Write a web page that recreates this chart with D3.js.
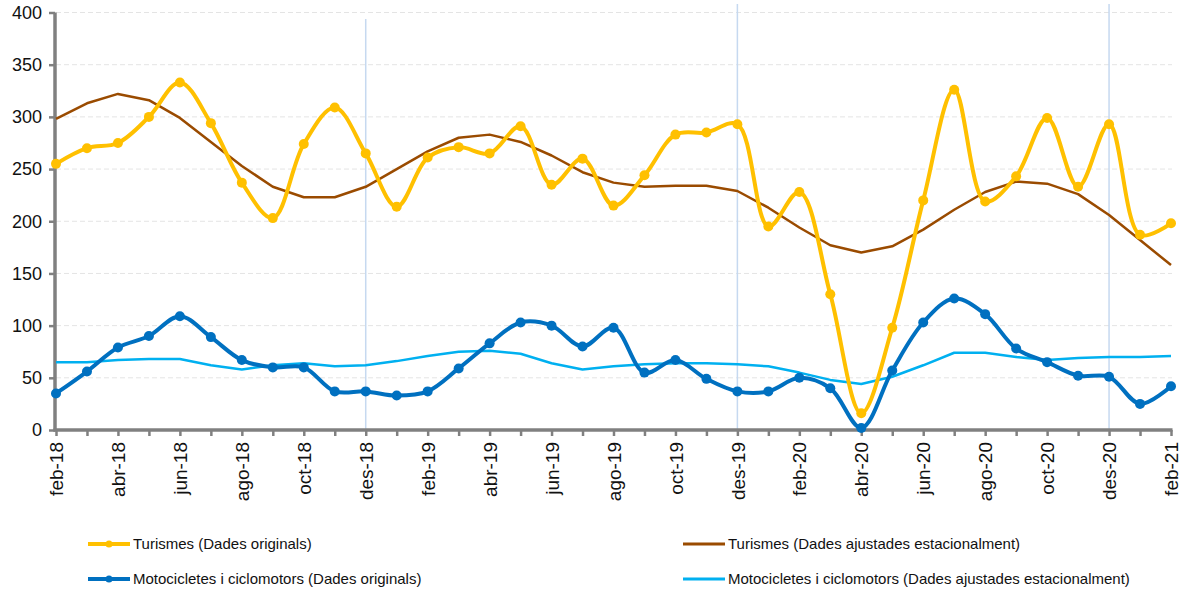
<!DOCTYPE html>
<html>
<head>
<meta charset="utf-8">
<script src="https://cdn.jsdelivr.net/npm/d3@7"></script>
<style>
  body { margin: 0; background: #fff; }
  svg { display: block; font-family: "Liberation Sans", Arial, sans-serif; }
</style>
</head>
<body>
<svg id="chart" width="1185" height="593"></svg>
<script>
// months on the x axis
const months = [
  "feb-18","mar-18","abr-18","mai-18","jun-18","jul-18","ago-18","set-18","oct-18","nov-18","des-18",
  "gen-19","feb-19","mar-19","abr-19","mai-19","jun-19","jul-19","ago-19","set-19","oct-19","nov-19","des-19",
  "gen-20","feb-20","mar-20","abr-20","mai-20","jun-20","jul-20","ago-20","set-20","oct-20","nov-20","des-20",
  "gen-21","feb-21"
];
const yTicks = [0, 50, 100, 150, 200, 250, 300, 350, 400];
const separators = ["des-18", "des-19", "des-20"];

const turismesOrig = [255,270,275,300,333,294,237,203,274,309,265,214,261,271,265,291,235,260,215,244,283,285,293,195,228,130,16,98,220,326,219,243,299,233,293,187,198];
const turismesAdj  = [298,313,322,316,299,276,253,233,223,223,233,250,267,280,283,276,263,247,237,233,234,234,229,213,194,177,170,176,192,211,228,238,236,226,206,182,158];
const motosOrig    = [35,56,79,90,109,89,67,60,60,37,37,33,37,59,83,103,100,80,98,55,67,49,37,37,50,40,2,57,103,126,111,78,65,52,51,25,42];
const motosAdj     = [65,65,67,68,68,62,58,62,64,61,62,66,71,75,76,73,64,58,61,63,64,64,63,61,55,48,44,51,62,74,74,70,67,69,70,70,71];

const series = [
  { name: "Turismes (Dades ajustades estacionalment)", values: turismesAdj, color: "#9A4B00", width: 2.5, smooth: false, dots: false },
  { name: "Motocicletes i ciclomotors (Dades ajustades estacionalment)", values: motosAdj, color: "#00B0F0", width: 2.5, smooth: false, dots: false },
  { name: "Turismes (Dades originals)", values: turismesOrig, color: "#FFC000", width: 4, smooth: true, dots: true },
  { name: "Motocicletes i ciclomotors (Dades originals)", values: motosOrig, color: "#0070C0", width: 4, smooth: true, dots: true }
];

const svg = d3.select("#chart");
const x = d3.scalePoint().domain(months).range([56, 1171]);
const y = d3.scaleLinear().domain([0, 400]).range([430, 12.5]);

// gridlines
svg.append("g").selectAll("line")
  .data(yTicks.filter(d => d > 0))
  .join("line")
  .attr("x1", 56).attr("x2", 1172)
  .attr("y1", d => y(d)).attr("y2", d => y(d))
  .attr("stroke", "#e4e4e4").attr("stroke-width", 1)
  .attr("stroke-dasharray", "5,3");

// year separators
const sepTop = [19, 4, 4];
svg.append("g").selectAll("line")
  .data(separators)
  .join("line")
  .attr("x1", d => x(d)).attr("x2", d => x(d))
  .attr("y1", (d, i) => sepTop[i]).attr("y2", y(0))
  .attr("stroke", "#c6d9f0").attr("stroke-width", 1.5);

// y axis
const yAxis = svg.append("g").attr("transform", `translate(${x(months[0]) - 1},0)`)
  .call(d3.axisLeft(y).tickValues(yTicks).tickSize(6).tickPadding(7));
yAxis.select(".domain").attr("stroke", "#808080").attr("stroke-width", 3.5).attr("d", `M0,${y(400)}V${y(0) + 1.5}`);
yAxis.selectAll(".tick line").attr("stroke", "#808080").attr("stroke-width", 2.5);
yAxis.selectAll(".tick text").attr("font-size", 18).attr("fill", "#111").attr("font-family", "Liberation Sans, Arial, sans-serif");

// x axis
const xAxis = svg.append("g").attr("transform", `translate(0,${y(0)})`)
  .call(d3.axisBottom(x).tickSize(6).tickPadding(10)
    .tickFormat((d, i) => i % 2 === 0 ? d : ""));
xAxis.select(".domain").attr("stroke", "#808080").attr("stroke-width", 3.5).attr("d", `M${x(months[0]) - 2.5},0H${x(months[months.length - 1]) + 1.5}`);
xAxis.selectAll(".tick line").attr("stroke", "#808080").attr("stroke-width", 2.5);
xAxis.selectAll(".tick text")
  .attr("font-size", 19).attr("fill", "#111").attr("font-family", "Liberation Sans, Arial, sans-serif")
  .attr("text-anchor", "end")
  .attr("transform", "rotate(-90)")
  .attr("x", -12).attr("y", 0).attr("dy", "0.35em");

// series
series.forEach(s => {
  const line = d3.line()
    .x((d, i) => x(months[i]))
    .y(d => y(d))
    .curve(s.smooth ? d3.curveCatmullRom.alpha(0.5) : d3.curveLinear);
  svg.append("path")
    .datum(s.values)
    .attr("d", line)
    .attr("fill", "none")
    .attr("stroke", s.color)
    .attr("stroke-width", s.width)
    .attr("stroke-linejoin", "round");
  if (s.dots) {
    svg.append("g").selectAll("circle")
      .data(s.values)
      .join("circle")
      .attr("cx", (d, i) => x(months[i]))
      .attr("cy", d => y(d))
      .attr("r", 5)
      .attr("fill", s.color);
  }
});

// legend
const legendOrder = [
  { s: series[2], lx: 88, ly: 544 },
  { s: series[0], lx: 683, ly: 544 },
  { s: series[3], lx: 88, ly: 579 },
  { s: series[1], lx: 683, ly: 579 }
];
const lg = svg.append("g").selectAll("g").data(legendOrder).join("g")
  .attr("transform", d => `translate(${d.lx},${d.ly})`);
lg.append("line")
  .attr("x1", 0).attr("x2", 42).attr("y1", 0).attr("y2", 0)
  .attr("stroke", d => d.s.color).attr("stroke-width", d => d.s.dots ? 4 : 3);
lg.filter(d => d.s.dots).append("circle")
  .attr("cx", 21).attr("cy", 0).attr("r", 3.5).attr("fill", d => d.s.color);
lg.append("text")
  .attr("x", 45).attr("y", 0).attr("dy", "0.35em")
  .attr("font-size", 15).attr("fill", "#111")
  .text(d => d.s.name);
</script>
</body>
</html>
